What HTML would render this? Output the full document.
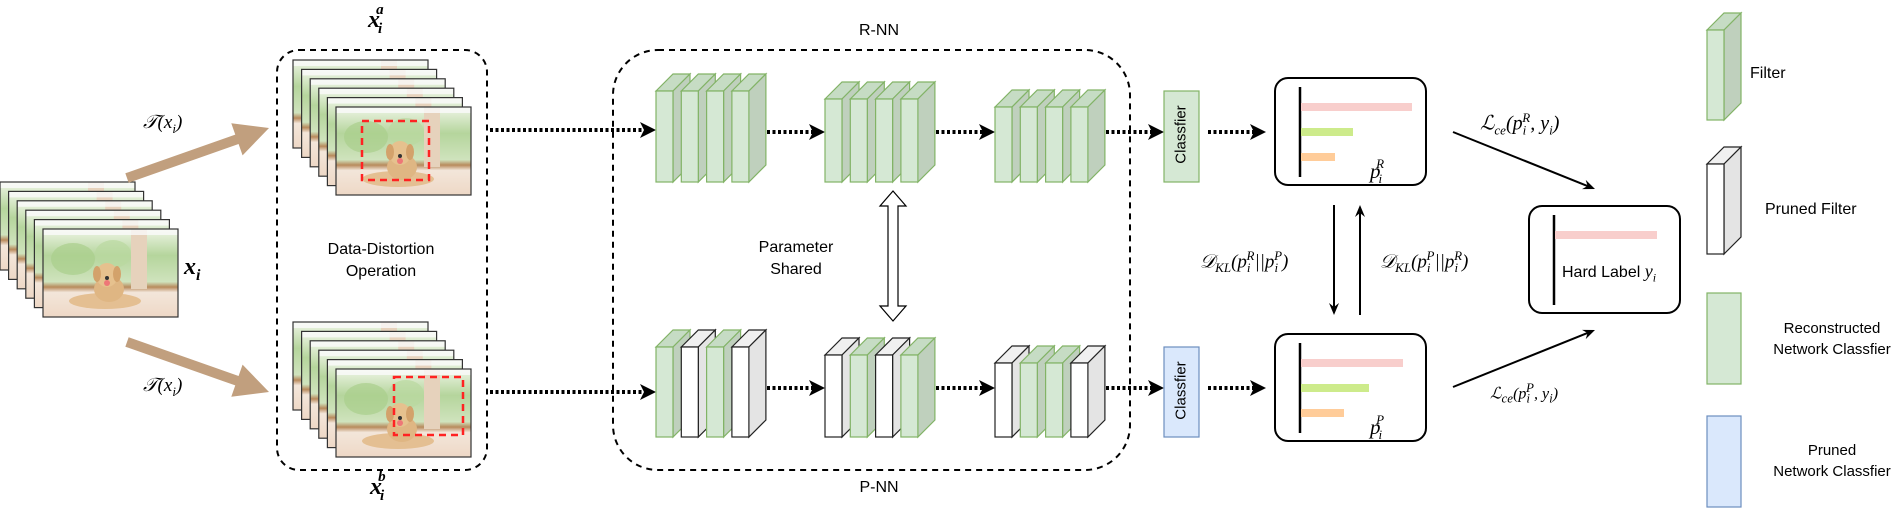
<!DOCTYPE html>
<html><head><meta charset="utf-8">
<style>
html,body{margin:0;padding:0;background:#fff;}
#c{position:relative;width:1903px;height:531px;overflow:hidden;}
.t{position:absolute;font-family:"Liberation Sans",sans-serif;font-size:16px;color:#000;white-space:nowrap;text-align:center;}
.m{position:absolute;font-family:"Liberation Serif",serif;font-style:italic;font-size:19px;color:#000;white-space:nowrap;}
.m sub,.m sup{font-size:13px;}
.b{font-weight:bold;}
</style></head><body>
<div id="c">
<svg id="s" width="1903" height="531" viewBox="0 0 1903 531" xmlns="http://www.w3.org/2000/svg" style="position:absolute;left:0;top:0">
<defs>
<linearGradient id="bg" x1="0" y1="0" x2="0" y2="1">
<stop offset="0" stop-color="#eef5e6"/><stop offset="0.3" stop-color="#b5d59c"/><stop offset="0.6" stop-color="#cfe3bd"/><stop offset="0.66" stop-color="#b88a5c"/><stop offset="0.72" stop-color="#f3e6da"/><stop offset="1" stop-color="#eed8c6"/>
</linearGradient>
<symbol id="img" viewBox="0 0 135 88">
<rect width="135" height="88" fill="url(#bg)"/>
<ellipse cx="30" cy="30" rx="22" ry="16" fill="#a9cf8c" opacity="0.7"/>
<ellipse cx="70" cy="25" rx="18" ry="14" fill="#b9d99f" opacity="0.7"/>
<rect x="88" y="0" width="16" height="60" fill="#e6d2bc"/>
<rect x="0" y="0" width="135" height="6" fill="#fafafa" opacity="0.8"/>
<ellipse cx="62" cy="72" rx="36" ry="8" fill="#e4bf92"/>
<ellipse cx="66" cy="60" rx="15" ry="13" fill="#dfb683"/>
<ellipse cx="64" cy="46" rx="11" ry="12" fill="#e6c18e"/>
<ellipse cx="54" cy="45" rx="4" ry="8" fill="#d3a26b"/>
<ellipse cx="74" cy="45" rx="4" ry="8" fill="#d3a26b"/>
<ellipse cx="64" cy="54" rx="3" ry="3" fill="#e77"/>
<circle cx="64" cy="49" r="2" fill="#333"/>
</symbol>
</defs>
</svg>

<div class="m" style="left:143px;top:112px;">𝒯(<i>x<sub>i</sub></i>)</div>
<div class="m" style="left:143px;top:375px;">𝒯(<i>x<sub>i</sub></i>)</div>
<div class="m b" style="left:184px;top:254px;font-size:24px;">x<sub style="font-size:16px">i</sub></div>
<div class="m b" style="left:368px;top:6px;font-size:24px;">x<sub style="font-size:15px;position:relative;left:-2px">i</sub><sup style="font-size:15px;position:relative;left:-8px;top:-4px">a</sup></div>
<div class="m b" style="left:370px;top:473px;font-size:24px;">x<sub style="font-size:15px;position:relative;left:-2px">i</sub><sup style="font-size:15px;position:relative;left:-8px;top:-4px">b</sup></div>
<div class="t" style="left:301px;top:239px;width:160px;line-height:22px;">Data-Distortion<br>Operation</div>
<div class="t" style="left:839px;top:22px;width:80px;">R-NN</div>
<div class="t" style="left:839px;top:479px;width:80px;">P-NN</div>
<div class="t" style="left:736px;top:237px;width:120px;line-height:22px;">Parameter<br>Shared</div>
<div class="t" style="left:1136px;top:126px;width:90px;transform:rotate(-90deg);font-size:15px;">Classfier</div>
<div class="t" style="left:1136px;top:382px;width:90px;transform:rotate(-90deg);font-size:15px;">Classfier</div>
<div class="m" style="left:1370px;top:158px;font-size:21px;">p<sub style="position:relative;left:-2px">i</sub><sup style="position:relative;left:-8px;top:-2px">R</sup></div>
<div class="m" style="left:1370px;top:414px;font-size:21px;">p<sub style="position:relative;left:-2px">i</sub><sup style="position:relative;left:-8px;top:-2px">P</sup></div>
<div class="m" style="left:1200px;top:248px;">𝒟<sub>KL</sub>(p<sub>i</sub><sup style="margin-left:-4px">R</sup>||p<sub>i</sub><sup style="margin-left:-4px">P</sup>)</div>
<div class="m" style="left:1380px;top:248px;">𝒟<sub>KL</sub>(p<sub>i</sub><sup style="margin-left:-4px">P</sup>||p<sub>i</sub><sup style="margin-left:-4px">R</sup>)</div>
<div class="m" style="left:1480px;top:110px;font-size:20px;">ℒ<sub>ce</sub>(p<sub>i</sub><sup style="margin-left:-4px">R</sup>, y<sub>i</sub>)</div>
<div class="m" style="left:1490px;top:380px;font-size:16px;">ℒ<sub>ce</sub>(p<sub>i</sub><sup style="margin-left:-4px">P</sup>, y<sub>i</sub>)</div>
<div class="t" style="left:1562px;top:261px;font-size:16px;">Hard Label <span style="font-family:'Liberation Serif',serif;font-style:italic;font-size:18px">y<sub style="font-size:12px">i</sub></span></div>
<div class="t" style="left:1750px;top:65px;width:60px;text-align:left;">Filter</div>
<div class="t" style="left:1765px;top:201px;width:120px;text-align:left;">Pruned Filter</div>
<div class="t" style="left:1762px;top:318px;width:140px;line-height:21px;font-size:15px;">Reconstructed<br>Network Classfier</div>
<div class="t" style="left:1762px;top:440px;width:140px;line-height:21px;font-size:15px;">Pruned<br>Network Classfier</div>
</div>
<script>
var s=document.getElementById('s'),NS='http://www.w3.org/2000/svg';
function el(t,a){var e=document.createElementNS(NS,t);for(var k in a)e.setAttribute(k,a[k]);s.appendChild(e);return e;}
function stack(x0,y0,red){for(var i=0;i<6;i++){var x=x0+i*8.6,y=y0+i*9.4;
 el('use',{href:'#img',x:x,y:y,width:135,height:88});
 el('rect',{x:x,y:y,width:135,height:88,fill:'none',stroke:'#333','stroke-width':1.2});}
 if(red)el('rect',{x:red[0],y:red[1],width:red[2],height:red[3],fill:'none',stroke:'#f22','stroke-width':2.5,'stroke-dasharray':'7 5'});}
stack(0,182,null);
stack(293,60,[362,121,67,59]);
stack(293,322,[394,377,69,58]);
function brown(x1,y1,x2,y2){var dx=x2-x1,dy=y2-y1,L=Math.hypot(dx,dy),ux=dx/L,uy=dy/L,px=-uy,py=ux;
 var hl=34,hw=17,sw=5;var bx=x2-ux*hl,by=y2-uy*hl;
 var p=[[x1+px*sw,y1+py*sw],[bx+px*sw,by+py*sw],[bx+px*hw,by+py*hw],[x2,y2],[bx-px*hw,by-py*hw],[bx-px*sw,by-py*sw],[x1-px*sw,y1-py*sw]];
 el('polygon',{points:p.map(function(q){return q.join(',')}).join(' '),fill:'#c19f7e'});}
brown(127,178,269,128);
brown(127,342,269,392);
el('rect',{x:277,y:50,width:210,height:420,rx:22,fill:'none',stroke:'#000','stroke-width':2,'stroke-dasharray':'6 5'});
el('rect',{x:613,y:50,width:517,height:420,rx:45,fill:'none',stroke:'#000','stroke-width':2,'stroke-dasharray':'6 5'});
function dot(x1,y,x2){el('line',{x1:x1,y1:y,x2:x2-12,y2:y,stroke:'#000','stroke-width':4,'stroke-dasharray':'3 2.5'});
 el('polygon',{points:(x2)+','+y+' '+(x2-16)+','+(y-8)+' '+(x2-12)+','+y+' '+(x2-16)+','+(y+8),fill:'#000'});}
dot(490,130,656);dot(767,132,825);dot(936,132,995);dot(1106,132,1164);dot(1208,132,1266);
dot(490,392,656);dot(767,388,825);dot(936,388,995);dot(1106,388,1164);dot(1208,388,1266);
function filt(x,y,h,t){var w=17,d=17,g=t=='g';
 var st=g?'#82b366':'#222';
 el('polygon',{points:[x,y,x+d,y-d,x+w+d,y-d,x+w,y].join(','),fill:g?'#c6dcc4':'#f0f0f0',stroke:st,'stroke-width':1.2});
 el('polygon',{points:[x+w,y,x+w+d,y-d,x+w+d,y+h-d,x+w,y+h].join(','),fill:g?'#bfd0bd':'#e4e4e4',stroke:st,'stroke-width':1.2});
 el('rect',{x:x,y:y,width:w,height:h,fill:g?'#d5e8d4':'#fff',stroke:st,'stroke-width':1.2});}
function grp(x0,y,h,pat){for(var i=0;i<4;i++)filt(x0+i*25.3,y,h,pat[i]);}
grp(656,91,91,'gggg');grp(825,99,83,'gggg');grp(995,107,75,'gggg');
grp(656,347,90,'gwgw');grp(825,355,82,'wgwg');grp(995,363,74,'wggw');
el('rect',{x:1164,y:91,width:35,height:91,fill:'#d5e8d4',stroke:'#82b366','stroke-width':1.2});
el('rect',{x:1164,y:347,width:35,height:90,fill:'#dae8fc',stroke:'#6c8ebf','stroke-width':1.2});
var cx=893;el('polygon',{points:[cx,191,cx+13,206,cx+5,206,cx+5,306,cx+13,306,cx,321,cx-13,306,cx-5,306,cx-5,206,cx-13,206].join(','),fill:'#fff',stroke:'#000','stroke-width':1.2});
function pbox(y,b){el('rect',{x:1275,y:y,width:151,height:107,rx:13,fill:'#fff',stroke:'#000','stroke-width':2});
 el('line',{x1:1300,y1:y+9,x2:1300,y2:y+99,stroke:'#000','stroke-width':2.5});
 el('rect',{x:1301,y:y+25,width:b[0]-1301,height:8,fill:'#f8cecc'});
 el('rect',{x:1301,y:y+50,width:b[1]-1301,height:8,fill:'#cdeb8b'});
 el('rect',{x:1301,y:y+75,width:b[2]-1301,height:8,fill:'#ffcc99'});}
pbox(78,[1412,1353,1335]);pbox(334,[1403,1369,1344]);
el('rect',{x:1529,y:206,width:151,height:107,rx:13,fill:'#fff',stroke:'#000','stroke-width':2});
el('line',{x1:1554,y1:215,x2:1554,y2:305,stroke:'#000','stroke-width':2.5});
el('rect',{x:1555,y:231,width:102,height:8,fill:'#f8cecc'});
function arr(x1,y1,x2,y2){var dx=x2-x1,dy=y2-y1,L=Math.hypot(dx,dy),ux=dx/L,uy=dy/L,px=-uy,py=ux;
 el('line',{x1:x1,y1:y1,x2:x2-ux*8,y2:y2-uy*8,stroke:'#000','stroke-width':2});
 var bx=x2-ux*12,by=y2-uy*12;
 el('polygon',{points:[x2,y2,bx+px*5,by+py*5,x2-ux*8,y2-uy*8,bx-px*5,by-py*5].join(','),fill:'#000'});}
arr(1334,205,1334,315);arr(1360,315,1360,205);
arr(1453,132,1595,189);arr(1453,387,1595,330);
filt(1707,30,90,'g');filt(1707,164,90,'w');
el('rect',{x:1707,y:293,width:34,height:91,fill:'#d5e8d4',stroke:'#82b366','stroke-width':1.2});
el('rect',{x:1707,y:416,width:34,height:91,fill:'#dae8fc',stroke:'#6c8ebf','stroke-width':1.2});
</script>
</body></html>
